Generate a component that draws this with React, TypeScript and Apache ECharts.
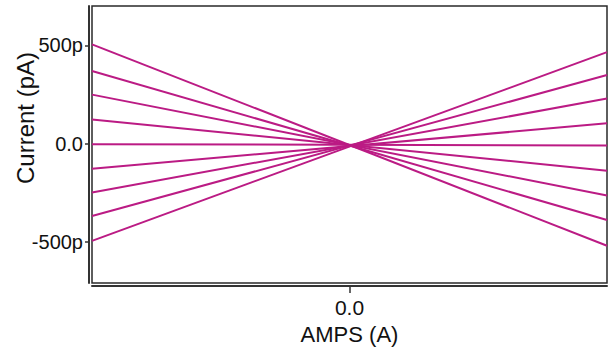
import React, { useEffect, useRef } from "react";
import * as echarts from "echarts";

// Current (pA) at the left edge and right edge of each sweep line (top to bottom at left)
const leftEnd = [505, 369, 249, 123, -3, -128, -249, -369, -495];
const rightEnd = [-520, -389, -264, -138, -10, 103, 229, 349, 465];
const xTicks = [0];
const yTicks = [-500, 0, 500];
const yTickLabels: Record<string, string> = { "-500": "-500p", "0": "0.0", "500": "500p" };

const LINE_COLOR = "#bb1b84";

export default function App() {
  const ref = useRef<HTMLDivElement>(null);
  useEffect(() => {
    if (!ref.current) return;
    const chart = echarts.init(ref.current, undefined, { renderer: "svg" });
    const font = "'Liberation Sans', Arial, sans-serif";
    const series = leftEnd.map((l, i) => ({
      type: "line",
      data: [
        [-1, l],
        [1, rightEnd[i]],
      ],
      symbol: "none",
      lineStyle: { color: LINE_COLOR, width: 2 },
      silent: true,
    }));
    chart.setOption({
      animation: false,
      backgroundColor: "#ffffff",
      grid: {
        left: 92,
        right: 3,
        top: 6,
        bottom: 64,
        show: true,
        borderColor: "#2a2a2a",
        borderWidth: 1.5,
        backgroundColor: "transparent",
      },
      xAxis: {
        type: "value",
        min: -1,
        max: 1,
        offset: 3,
        axisLine: { show: true, onZero: false, lineStyle: { color: "#333", width: 2 } },
        axisTick: { show: true, length: 7, customValues: xTicks, lineStyle: { color: "#333", width: 1.5 } },
        axisLabel: {
          customValues: xTicks,
          formatter: () => "0.0",
          margin: 11,
          fontSize: 21,
          color: "#111",
          fontFamily: font,
        },
        splitLine: { show: false },
        name: "AMPS (A)",
        nameLocation: "middle",
        nameGap: 34,
        nameTextStyle: { fontSize: 22, color: "#111", fontFamily: font },
      },
      yAxis: {
        type: "value",
        min: -710,
        max: 700,
        offset: 3,
        axisLine: { show: true, onZero: false, lineStyle: { color: "#333", width: 2 } },
        axisTick: { show: true, length: 4, customValues: yTicks, lineStyle: { color: "#333", width: 1.5 } },
        axisLabel: {
          customValues: yTicks,
          formatter: (v: number) => yTickLabels[String(v)] ?? String(v),
          margin: 6,
          fontSize: 20,
          color: "#111",
          fontFamily: font,
        },
        splitLine: { show: false },
      },
      graphic: [
        {
          type: "text",
          x: 25,
          y: 118,
          rotation: Math.PI / 2,
          style: {
            text: "Current (pA)",
            fontSize: 24,
            fontFamily: font,
            fill: "#111",
            textAlign: "center",
            textVerticalAlign: "middle",
          },
        },
      ],
      series,
    });
    return () => chart.dispose();
  }, []);
  return (
    <div
      ref={ref}
      style={{ position: "fixed", left: 0, top: 0, width: 610, height: 350, background: "#fff" }}
    />
  );
}
